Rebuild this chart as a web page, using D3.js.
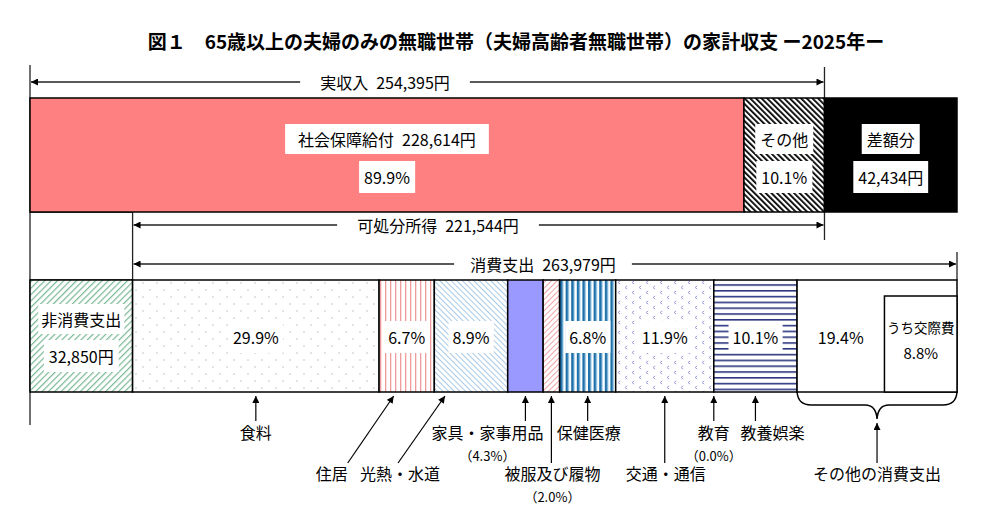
<!DOCTYPE html>
<html>
<head>
<meta charset="utf-8">
<script src="https://cdn.jsdelivr.net/npm/d3@7"></script>
<style>
  body { margin: 0; background: #fff; }
  text { font-family: "Noto Sans CJK JP", sans-serif; fill: #000; }
</style>
</head>
<body>
<div id="chart"></div>
<script>
// ---- data (円 / %) ----
const titleText = "図１　65歳以上の夫婦のみの無職世帯（夫婦高齢者無職世帯）の家計収支 ー2025年ー";
const incomeItems = ["社会保障給付", "その他"];
const incomeValues = [228614, 25781];
const incomeShares = [89.9, 10.1];
const actualIncome = 254395;
const deficit = 42434;
const nonConsumption = 32850;
const disposableIncome = 221544;
const consumption = 263979;
const consCats = ["食料", "住居", "光熱・水道", "家具・家事用品", "被服及び履物",
                  "保健医療", "交通・通信", "教育", "教養娯楽", "その他の消費支出"];
const consShares = [29.9, 6.7, 8.9, 4.3, 2.0, 6.8, 11.9, 0.0, 10.1, 19.4];
const socialShare = 8.8;

const width = 997, height = 509;
const yen = d => d.toLocaleString("en-US") + "円";
const pct = d => d.toFixed(1) + "%";

const svg = d3.select("#chart")
    .append("svg")
    .attr("width", width)
    .attr("height", height);

const x = d3.scaleLinear()
    .domain([0, actualIncome + deficit])
    .range([30, 957]);

// rows
const topRow = {y0: 98, y1: 212};
const botRow = {y0: 280, y1: 392};

// ---- patterns ----
const defs = svg.append("defs");

function stripes(id, color, gap, lw, angle) {
  const p = defs.append("pattern")
      .attr("id", id)
      .attr("patternUnits", "userSpaceOnUse")
      .attr("width", gap).attr("height", 10)
      .attr("patternTransform", `rotate(${angle})`);
  p.append("rect").attr("width", gap).attr("height", 10).attr("fill", "#fff");
  p.append("rect").attr("width", lw).attr("height", 10).attr("fill", color);
}
stripes("pOther", "#000", 4, 1.8, -45);
stripes("pNonCons", "#79b894", 4.5, 1.2, 45);
stripes("pHousing", "#f19c9c", 5, 1.3, 0);
stripes("pUtil", "#a9c9e6", 4, 1, -45);
stripes("pCloth", "#f0a4a4", 4, 1, 45);

// 保健医療: blue vertical bars
const ph = defs.append("pattern").attr("id", "pHealth")
    .attr("patternUnits", "userSpaceOnUse").attr("width", 5.6).attr("height", 10);
ph.append("rect").attr("width", 5.6).attr("height", 10).attr("fill", "#fff");
ph.append("rect").attr("x", 0).attr("width", 2.6).attr("height", 10).attr("fill", "#1f71ab");
ph.append("rect").attr("x", 2.6).attr("width", 0.8).attr("height", 10).attr("fill", "#8cc3e3");

// 教養娯楽: navy horizontal lines
const pc = defs.append("pattern").attr("id", "pCulture")
    .attr("patternUnits", "userSpaceOnUse").attr("width", 10).attr("height", 5.8);
pc.append("rect").attr("width", 10).attr("height", 5.8).attr("fill", "#fff");
pc.append("rect").attr("width", 10).attr("height", 1.6).attr("fill", "#2c3780");

// 食料: sparse dots
const pf = defs.append("pattern").attr("id", "pFood")
    .attr("patternUnits", "userSpaceOnUse").attr("width", 14).attr("height", 14);
pf.append("rect").attr("width", 14).attr("height", 14).attr("fill", "#fff");
[[3, 3], [10, 10]].forEach(([cx, cy]) =>
  pf.append("circle").attr("cx", cx).attr("cy", cy).attr("r", 0.8).attr("fill", "#b9c3c3"));

// 交通・通信: small chevrons
const pt = defs.append("pattern").attr("id", "pTrans")
    .attr("patternUnits", "userSpaceOnUse").attr("width", 14).attr("height", 10);
pt.append("rect").attr("width", 14).attr("height", 10).attr("fill", "#fff");
[[3, 2.5], [10, 7.5]].forEach(([cx, cy]) =>
  pt.append("path").attr("d", `M${cx + 1.2},${cy - 1.5} L${cx - 1},${cy} L${cx + 1.2},${cy + 1.5}`)
    .attr("fill", "none").attr("stroke", "#a3a3dc").attr("stroke-width", 1));

defs.append("marker")
    .attr("id", "ah")
    .attr("viewBox", "0 0 10 10")
    .attr("refX", 10).attr("refY", 5)
    .attr("markerWidth", 8).attr("markerHeight", 7)
    .attr("markerUnits", "userSpaceOnUse")
    .attr("orient", "auto-start-reverse")
    .append("path").attr("d", "M0,0 L10,5 L0,10 z").attr("fill", "#000");

// ---- helpers ----
function boxedText(g, cx, cy, str, size, padX = 5, padY = 3) {
  const t = g.append("text")
      .attr("x", cx).attr("y", cy)
      .attr("text-anchor", "middle")
      .attr("dominant-baseline", "central")
      .attr("font-size", size)
      .text(str);
  const b = t.node().getBBox();
  g.insert("rect", () => t.node())
      .attr("x", b.x - padX).attr("y", b.y - padY)
      .attr("width", b.width + padX * 2).attr("height", b.height + padY * 2)
      .attr("fill", "#fff");
  return t;
}

function dimArrow(y, x0, x1, str, cx, pad) {
  const g = svg.append("g");
  g.append("line")
      .attr("x1", x0 + 1).attr("x2", x1 - 1)
      .attr("y1", y).attr("y2", y)
      .attr("stroke", "#222").attr("stroke-width", 1.3)
      .attr("marker-start", "url(#ah)")
      .attr("marker-end", "url(#ah)");
  boxedText(g, cx, y, str, 16, pad, 2);
}

// ---- title ----
svg.append("text")
    .attr("x", 516).attr("y", 40)
    .attr("text-anchor", "middle")
    .attr("dominant-baseline", "central")
    .attr("font-size", 19)
    .attr("font-weight", "bold")
    .text(titleText);

// ---- guide lines ----
const guides = svg.append("g").attr("stroke", "#222").attr("stroke-width", 1.3);
guides.append("line").attr("x1", x(0)).attr("x2", x(0)).attr("y1", 65).attr("y2", 425);
guides.append("line").attr("x1", x(actualIncome)).attr("x2", x(actualIncome)).attr("y1", 67).attr("y2", 240);
guides.append("line").attr("x1", x(nonConsumption)).attr("x2", x(nonConsumption)).attr("y1", topRow.y1).attr("y2", botRow.y0);
guides.append("line").attr("x1", x(actualIncome + deficit)).attr("x2", x(actualIncome + deficit)).attr("y1", 252).attr("y2", botRow.y0);
guides.append("line").attr("x1", x(0)).attr("x2", x(nonConsumption)).attr("y1", topRow.y1).attr("y2", topRow.y1);
guides.append("line").attr("x1", x(0)).attr("x2", x(nonConsumption)).attr("y1", botRow.y0).attr("y2", botRow.y0);

// ---- dimension arrows ----
dimArrow(82, x(0), x(actualIncome), "実収入\u2002" + yen(actualIncome), 385, 20);
dimArrow(225, x(nonConsumption), x(actualIncome), "可処分所得\u2002" + yen(disposableIncome), 438, 20);
dimArrow(264, x(nonConsumption), x(actualIncome + deficit), "消費支出\u2002" + yen(consumption), 543, 16);

// ---- top bar: income ----
const topFills = ["#ff8080", "url(#pOther)", "#000"];
let acc = 0;
const topSegs = incomeItems.map((name, i) => {
  const s = {name, start: acc, end: acc + incomeValues[i], share: incomeShares[i], fill: topFills[i]};
  acc += incomeValues[i];
  return s;
});
topSegs.push({name: "差額分", start: actualIncome, end: actualIncome + deficit, value: deficit, fill: topFills[2]});

svg.append("g").selectAll("rect")
    .data(topSegs)
    .join("rect")
    .attr("x", d => x(d.start))
    .attr("y", topRow.y0)
    .attr("width", d => x(d.end) - x(d.start))
    .attr("height", topRow.y1 - topRow.y0)
    .attr("fill", d => d.fill)
    .attr("stroke", "#000")
    .attr("stroke-width", 1.5);

const topLab = svg.append("g");
topSegs.forEach((d, i) => {
  const cx = (x(d.start) + x(d.end)) / 2;
  const first = i === 0 ? d.name + "\u2002" + yen(incomeValues[0]) : d.name;
  const second = d.share !== undefined ? pct(d.share) : yen(d.value);
  boxedText(topLab, cx, 139, first, 16, i === 0 ? 13 : 5, 3);
  boxedText(topLab, cx, 177, second, 16, 5, 4);
});

// ---- bottom bar: expenditure ----
const botFills = ["url(#pFood)", "url(#pHousing)", "url(#pUtil)", "#9999ff", "url(#pCloth)",
                  "url(#pHealth)", "url(#pTrans)", "#fff", "url(#pCulture)", "#fff"];
acc = nonConsumption;
const botSegs = consCats.map((name, i) => {
  const v = consumption * consShares[i] / 100;
  const s = {name, share: consShares[i], start: acc, end: acc + v, fill: botFills[i]};
  acc += v;
  return s;
});

const barG = svg.append("g");
barG.append("rect")
    .attr("x", x(0)).attr("y", botRow.y0)
    .attr("width", x(nonConsumption) - x(0)).attr("height", botRow.y1 - botRow.y0)
    .attr("fill", "url(#pNonCons)")
    .attr("stroke", "#000").attr("stroke-width", 1.5);
barG.selectAll("rect.seg")
    .data(botSegs.filter(d => d.share > 0))
    .join("rect")
    .attr("class", "seg")
    .attr("x", d => x(d.start))
    .attr("y", botRow.y0)
    .attr("width", d => x(d.end) - x(d.start))
    .attr("height", botRow.y1 - botRow.y0)
    .attr("fill", d => d.fill)
    .attr("stroke", "#000")
    .attr("stroke-width", 1.5);

// うち交際費 box inside その他
const other = botSegs[9];
const socialX0 = x(other.end - consumption * socialShare / 100);
barG.append("rect")
    .attr("x", socialX0).attr("y", 296)
    .attr("width", x(other.end) - socialX0).attr("height", botRow.y1 - 296)
    .attr("fill", "#fff").attr("stroke", "#000").attr("stroke-width", 1.5);

const botLab = svg.append("g");
boxedText(botLab, (x(0) + x(nonConsumption)) / 2, 319, "非消費支出", 16, 3, 3);
boxedText(botLab, (x(0) + x(nonConsumption)) / 2, 356, yen(nonConsumption), 16, 5, 4);
botSegs.forEach((d, i) => {
  if (d.share < 5) return;
  let cx = (x(d.start) + x(d.end)) / 2;
  if (i === 9) cx = (x(d.start) + socialX0) / 2;
  boxedText(botLab, cx, 337, pct(d.share), 16, 4, 4);
});
botLab.append("text")
    .attr("x", (socialX0 + x(other.end)) / 2).attr("y", 327)
    .attr("text-anchor", "middle").attr("dominant-baseline", "central")
    .attr("font-size", 13.5).text("うち交際費");
botLab.append("text")
    .attr("x", (socialX0 + x(other.end)) / 2).attr("y", 352)
    .attr("text-anchor", "middle").attr("dominant-baseline", "central")
    .attr("font-size", 15).text(pct(socialShare));

// ---- annotations under the bar ----
// row 1 = short arrow, row 2 = long arrow; offsets relative to segment centre
const annot = [
  {row: 1, tip: 0,   tail: 0,   lab: 0},
  {row: 2, tip: -13, tail: -59, lab: -75},
  {row: 2, tip: -26, tail: -73, lab: -71},
  {row: 1, tip: 0,   tail: 0,   lab: -38, sub: true},
  {row: 2, tip: 0,   tail: 0,   lab: 1,   sub: true},
  {row: 1, tip: 0,   tail: 0,   lab: 1},
  {row: 2, tip: 0,   tail: 0,   lab: 1},
  {row: 1, tip: 0,   tail: 0,   lab: 0,   sub: true},
  {row: 1, tip: 0,   tail: 0,   lab: 17}
];
const rowY = {1: {tail: 421, lab: 432}, 2: {tail: 463, lab: 473}};
const annG = svg.append("g");
botSegs.slice(0, 9).forEach((d, i) => {
  const a = annot[i];
  const cx = (x(d.start) + x(d.end)) / 2;
  annG.append("line")
      .attr("x1", cx + a.tail).attr("y1", rowY[a.row].tail)
      .attr("x2", cx + a.tip).attr("y2", botRow.y1 + 4)
      .attr("stroke", "#000").attr("stroke-width", 1.2)
      .attr("marker-end", "url(#ah)");
  annG.append("text")
      .attr("x", cx + a.lab).attr("y", rowY[a.row].lab)
      .attr("text-anchor", "middle").attr("dominant-baseline", "central")
      .attr("font-size", 16).text(d.name);
  if (a.sub) {
    annG.append("text")
        .attr("x", cx + a.lab).attr("y", rowY[a.row].lab + 23)
        .attr("text-anchor", "middle").attr("dominant-baseline", "central")
        .attr("font-size", 13).text("（" + pct(d.share) + "）");
  }
});

// brace for その他の消費支出
const bx0 = x(other.start), bx1 = x(other.end), bm = (bx0 + bx1) / 2, by = 405;
annG.append("path")
    .attr("d", `M${bx0},${botRow.y1} Q${bx0 + 1},${by} ${bx0 + 14},${by} L${bm - 12},${by}` +
               ` Q${bm - 1},${by} ${bm},${by + 14} Q${bm + 1},${by} ${bm + 12},${by}` +
               ` L${bx1 - 14},${by} Q${bx1 - 1},${by} ${bx1},${botRow.y1}`)
    .attr("fill", "none").attr("stroke", "#000").attr("stroke-width", 1.5);
annG.append("line")
    .attr("x1", bm).attr("y1", 463).attr("x2", bm).attr("y2", by + 18)
    .attr("stroke", "#000").attr("stroke-width", 1.2)
    .attr("marker-end", "url(#ah)");
annG.append("text")
    .attr("x", bm).attr("y", 473)
    .attr("text-anchor", "middle").attr("dominant-baseline", "central")
    .attr("font-size", 16).text(other.name);
</script>
</body>
</html>
